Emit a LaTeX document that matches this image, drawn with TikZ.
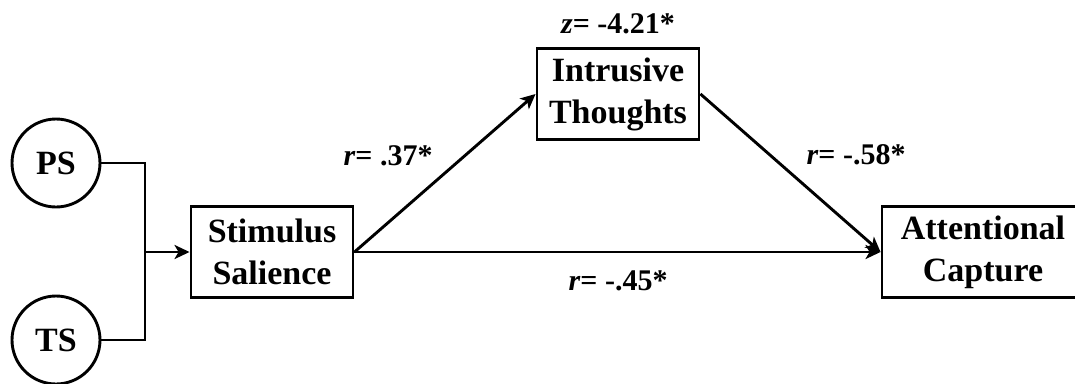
\documentclass[tikz,border=0pt]{standalone}
\usepackage{fontspec}
\setmainfont{Liberation Serif}
\usetikzlibrary{arrows.meta}

\begin{document}
\begin{tikzpicture}[x=1pt, y=-1pt, line width=2.9pt,
  varbox/.style={draw, rectangle, align=center, inner sep=0pt,
    minimum height=91pt, font=\fontsize{34}{42}\selectfont\bfseries},
  srcvar/.style={draw, circle, minimum size=88pt, inner sep=0pt,
    font=\fontsize{34}{42}\selectfont\bfseries},
  coef/.style={anchor=base, inner sep=0pt, font=\fontsize{30}{36}\selectfont\bfseries},
  path/.style={-{Stealth[length=15pt, width=14pt, inset=4pt]}}]

\useasboundingbox (0,0) rectangle (1075,383);

% 1. SOURCE VARIABLES (Left)
\node[srcvar] (ps) at (56,163) {PS};
\node[srcvar] (ts) at (56,340) {TS};

% 2. MODEL BOXES
\node[varbox, minimum width=162pt] (stim) at (272,252) {Stimulus\\Salience};
\node[varbox, minimum width=162pt] (intr) at (618,94) {Intrusive\\Thoughts};
\node[varbox, minimum width=202pt] (attn) at (983,252) {Attentional\\Capture};

% 3. CONNECTORS
\coordinate (join) at (145,252);
\draw (ps) -| (join);
\draw (ts) -| (join);
\draw[path] (join) -- (stim.west);
\draw[path] (stim.east) -- (intr.west);
\draw[path] (intr.east) -- (attn.west);
\draw[path] (stim.east) -- (attn.west);

% 4. COEFFICIENTS
\node[coef] (zintr) at (618,33) {\textit{z}= -4.21*};
\node[coef] (rsi) at (388,165) {\textit{r}= .37*};
\node[coef] (rit) at (856,164) {\textit{r}= -.58*};
\node[coef] (rsa) at (618,290) {\textit{r}= -.45*};

\end{tikzpicture}
\end{document}
